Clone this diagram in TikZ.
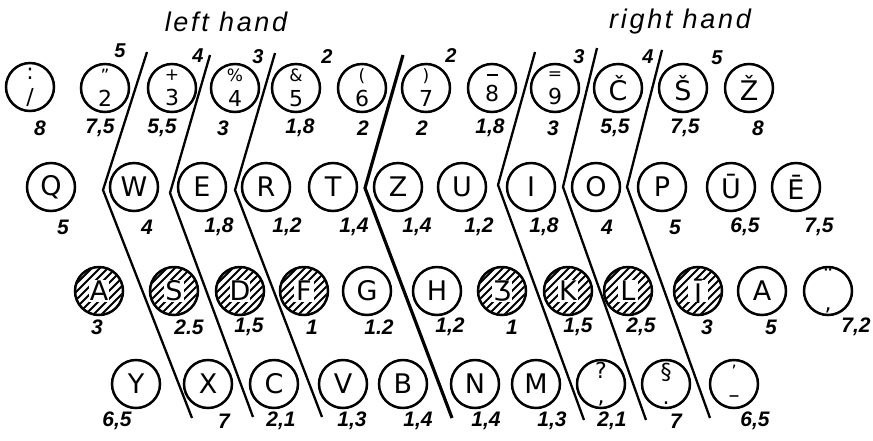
\documentclass[tikz,border=0pt]{standalone}
\usepackage{fontspec}
\setmainfont{DejaVu Sans}
\newfontfamily\numfont{Liberation Sans}
\usetikzlibrary{calc}
\newcommand\kfont{\fontsize{27}{27}\selectfont}
\newcommand\kfontb{\fontsize{22}{25}\selectfont}
\newcommand\tops{\fontsize{17}{17}\selectfont}
\tikzset{
  key/.style={circle,draw,line width=2.5pt,minimum size=48pt,inner sep=0pt,font=\kfont},
  twoline/.style={align=center,font=\kfontb},
  num/.style={font=\numfont\bfseries\itshape\fontsize{21}{21}\selectfont,inner sep=0pt},
  finger/.style={font=\numfont\bfseries\itshape\fontsize{20}{20}\selectfont,inner sep=0pt},
  title/.style={font=\numfont\itshape\fontsize{27}{27}\selectfont\addfontfeature{LetterSpace=10},inner sep=0pt},
  divider/.style={line width=2.3pt,line join=miter},
  handdivider/.style={line width=3.2pt,line join=miter},
  hatch/.style={line width=1.9pt},
}
\newcommand\hkey[4]{%
  \begin{scope}
    \clip (#2,#3) circle (23pt);
    \foreach \d in {-46,-38,...,46} \draw[hatch] (#2+\d-30,#3+30) -- ++(60,-60);
  \end{scope}
  \fill[white] (#2-10,#3-11) rectangle (#2+10,#3+11);
  \node[key] (#1) at (#2,#3) {#4};
}
\begin{document}
\begin{tikzpicture}[x=1pt,y=-1pt]
\useasboundingbox (0,0) rectangle (873,440);
\fill[white] (0,0) rectangle (873,440);

% titles
\node[title] (lh) at (226,22) {left hand};
\node[title] (rh) at (680,22) {right hand};

% finger numbers
\node[finger] (f1) at (120,51) {5};
\node[finger] (f2) at (198,56) {4};
\node[finger] (f3) at (258,57) {3};
\node[finger] (f4) at (327,57) {2};
\node[finger] (f5) at (451,56) {2};
\node[finger] (f6) at (579,57) {3};
\node[finger] (f7) at (648,57) {4};
\node[finger] (f8) at (717,58) {5};

% row 1
\node[key,twoline] (k11) at (30,87) {:\\/};
\node[key,twoline] (k12) at (105,88) {{\tops "}\\2};
\node[key,twoline] (k13) at (172,88) {{\tops +}\\3};
\node[key,twoline] (k14) at (235,88) {{\tops \%}\\4};
\node[key,twoline] (k15) at (296,88) {{\tops \&}\\5};
\node[key,twoline] (k16) at (362,88) {{\tops (}\\6};
\node[key,twoline] (k17) at (426,88) {{\tops )}\\7};
\node[key,twoline] (k18) at (492,88) {\rule{11pt}{1.9pt}\\8};
\node[key,twoline] (k19) at (555,88) {{\tops =}\\9};
\node[key] (k1a) at (618,88) {Č};
\node[key] (k1b) at (683,88) {Š};
\node[key] (k1c) at (749,88) {Ž};

\node[num] (n11) at (40,128) {8};
\node[num] (n12) at (100,128) {7,5};
\node[num] (n13) at (162,128) {5,5};
\node[num] (n14) at (223,128) {3};
\node[num] (n15) at (300,128) {1,8};
\node[num] (n16) at (363,128) {2};
\node[num] (n17) at (422,128) {2};
\node[num] (n18) at (490,128) {1,8};
\node[num] (n19) at (553,128) {3};
\node[num] (n1a) at (615,128) {5,5};
\node[num] (n1b) at (685,128) {7,5};
\node[num] (n1c) at (758,128) {8};

% row 2
\node[key] (k21) at (51,187) {Q};
\node[key] (k22) at (134,187) {W};
\node[key] (k23) at (202,187) {E};
\node[key] (k24) at (266,187) {R};
\node[key] (k25) at (333,187) {T};
\node[key] (k26) at (398,187) {Z};
\node[key] (k27) at (462,187) {U};
\node[key] (k28) at (531,187) {I};
\node[key] (k29) at (596,187) {O};
\node[key] (k2a) at (662,187) {P};
\node[key] (k2b) at (731,187) {Ū};
\node[key] (k2c) at (796,187) {Ē};

\node[num] (n21) at (63,227) {5};
\node[num] (n22) at (147,227) {4};
\node[num] (n23) at (219,227) {1,8};
\node[num] (n24) at (287,227) {1,2};
\node[num] (n25) at (354,227) {1,4};
\node[num] (n26) at (417,227) {1,4};
\node[num] (n27) at (479,227) {1,2};
\node[num] (n28) at (544,227) {1,8};
\node[num] (n29) at (607,227) {4};
\node[num] (n2a) at (675,227) {5};
\node[num] (n2b) at (745,227) {6,5};
\node[num] (n2c) at (819,227) {7,5};

% row 3 (home row)
\hkey{k31}{99}{291}{A}
\hkey{k32}{174}{291}{S}
\hkey{k33}{240}{291}{D}
\hkey{k34}{304}{291}{F}
\node[key] (k35) at (367,291) {G};
\node[key] (k36) at (437,291) {H};
\hkey{k37}{502}{291}{Ʒ}
\hkey{k38}{568}{291}{K}
\hkey{k39}{628}{291}{L}
\hkey{k3a}{698}{291}{Ī}
\node[key] (k3b) at (762,291) {A};
\node[key,twoline] (k3c) at (828,291) {¨\\,};

\node[num] (n31) at (97,327) {3};
\node[num] (n32) at (189,327) {2.5};
\node[num] (n33) at (249,327) {1,5};
\node[num] (n34) at (312,327) {1};
\node[num] (n35) at (379,327) {1.2};
\node[num] (n36) at (450,327) {1,2};
\node[num] (n37) at (512,327) {1};
\node[num] (n38) at (578,327) {1,5};
\node[num] (n39) at (641,327) {2,5};
\node[num] (n3a) at (707,327) {3};
\node[num] (n3b) at (771,327) {5};
\node[num] (n3c) at (856,327) {7,2};

% row 4
\node[key] (k41) at (136,384) {Y};
\node[key] (k42) at (208,384) {X};
\node[key] (k43) at (274,384) {C};
\node[key] (k44) at (343,384) {V};
\node[key] (k45) at (403,384) {B};
\node[key] (k46) at (475,384) {N};
\node[key] (k47) at (536,384) {M};
\node[key,twoline] (k48) at (601,384) {?\\,};
\node[key,twoline] (k49) at (666,384) {§\\.};
\node[key,twoline] (k4a) at (734,384) {{\tops '}\\–};

\node[num] (n41) at (117,421) {6,5};
\node[num] (n42) at (224,421) {7};
\node[num] (n43) at (281,421) {2,1};
\node[num] (n44) at (352,421) {1,3};
\node[num] (n45) at (418,421) {1,4};
\node[num] (n46) at (486,421) {1,4};
\node[num] (n47) at (552,421) {1,3};
\node[num] (n48) at (612,421) {2,1};
\node[num] (n49) at (676,421) {7};
\node[num] (n4a) at (755,421) {6,5};

% finger dividers
\coordinate (a1) at (147,52);  \coordinate (b1) at (103,190); \coordinate (c1) at (192,418);
\coordinate (a2) at (210,55);  \coordinate (b2) at (170,193); \coordinate (c2) at (253,417);
\coordinate (a3) at (275,53);  \coordinate (b3) at (235,190); \coordinate (c3) at (322,417);
\coordinate (a4) at (403,55);  \coordinate (b4) at (365,188); \coordinate (c4) at (452,418);
\coordinate (a5) at (535,52);  \coordinate (b5) at (498,185); \coordinate (c5) at (584,420);
\coordinate (a6) at (597,48);  \coordinate (b6) at (563,187); \coordinate (c6) at (646,420);
\coordinate (a7) at (662,50);  \coordinate (b7) at (627,187); \coordinate (c7) at (710,418);
\draw[divider] (a1) -- (b1) -- (c1);
\draw[divider] (a2) -- (b2) -- (c2);
\draw[divider] (a3) -- (b3) -- (c3);
\draw[handdivider] (a4) -- (b4) -- (c4);
\draw[divider] (a5) -- (b5) -- (c5);
\draw[divider] (a6) -- (b6) -- (c6);
\draw[divider] (a7) -- (b7) -- (c7);
\end{tikzpicture}
\end{document}
